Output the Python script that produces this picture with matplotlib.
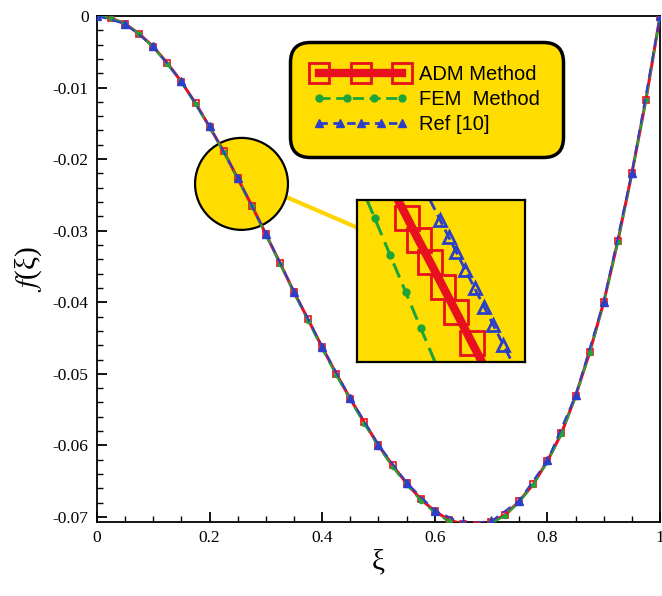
import matplotlib.pyplot as plt
from matplotlib.lines import Line2D
from matplotlib.legend_handler import HandlerLine2D
from matplotlib.patches import Ellipse, ConnectionPatch
from matplotlib.ticker import MultipleLocator, FuncFormatter

plt.rcParams['mathtext.fontset'] = 'stix'

yellow = '#ffdd00'
red = '#e8101e'
green = '#1ea53a'
blue = '#2b3fc8'

# solution f(xi)
xi = [0.000, 0.025, 0.050, 0.075, 0.100, 0.125, 0.150, 0.175, 0.200, 0.225,
      0.250, 0.275, 0.300, 0.325, 0.350, 0.375, 0.400, 0.425, 0.450, 0.475,
      0.500, 0.525, 0.550, 0.575, 0.600, 0.625, 0.650, 0.675, 0.700, 0.725,
      0.750, 0.775, 0.800, 0.825, 0.850, 0.875, 0.900, 0.925, 0.950, 0.975, 1.000]
f_adm = [0.0, -0.0003, -0.0011, -0.0025, -0.0043, -0.0066, -0.0092, -0.0122, -0.0155, -0.0189,
         -0.0227, -0.0265, -0.0305, -0.0345, -0.0386, -0.0424, -0.0463, -0.0500, -0.0535, -0.0568,
         -0.0600, -0.0628, -0.0653, -0.0675, -0.0692, -0.0704, -0.0710, -0.0711, -0.0707, -0.0697,
         -0.0678, -0.0654, -0.0622, -0.0583, -0.0531, -0.0470, -0.0400, -0.0315, -0.0220, -0.0117, 0.0]
f_fem = [0.0, -0.0003, -0.0011, -0.0025, -0.0044, -0.0067, -0.0093, -0.0123, -0.0156, -0.0190,
         -0.0228, -0.0266, -0.0306, -0.0346, -0.0387, -0.0426, -0.0465, -0.0502, -0.0537, -0.0570,
         -0.0602, -0.0630, -0.0655, -0.0677, -0.0694, -0.0706, -0.0712, -0.0713, -0.0709, -0.0698,
         -0.0679, -0.0655, -0.0623, -0.0584, -0.0532, -0.0471, -0.0401, -0.0316, -0.0221, -0.0117, 0.0]
xi_ref = [0.00, 0.05, 0.10, 0.15, 0.20, 0.25, 0.30, 0.35, 0.40, 0.45, 0.50,
          0.55, 0.60, 0.65, 0.70, 0.75, 0.80, 0.85, 0.90, 0.95, 1.00]
f_ref = [0.0, -0.0011, -0.0042, -0.0091, -0.0154, -0.0226, -0.0304, -0.0385, -0.0462, -0.0534, -0.0599,
         -0.0652, -0.0691, -0.0709, -0.0706, -0.0677, -0.0621, -0.0530, -0.0399, -0.0219, 0.0]

# magnified piece shown in the inset box
zoom_xi_adm = [0.25488, 0.25599, 0.25735, 0.25870, 0.26025, 0.26180, 0.26370, 0.26488]
zoom_f_adm = [-0.024600, -0.024778, -0.025000, -0.025212, -0.025459, -0.025706, -0.026012, -0.026200]
zoom_xi_fem = [0.25119, 0.25210, 0.25394, 0.25579, 0.25758, 0.25929]
zoom_f_fem = [-0.024600, -0.024778, -0.025143, -0.025509, -0.025864, -0.026200]
zoom_xi_ref = [0.25869, 0.25989, 0.26092, 0.26182, 0.26290, 0.26399, 0.26514, 0.26623, 0.26743, 0.26845]
zoom_f_ref = [-0.024600, -0.024798, -0.024965, -0.025114, -0.025291, -0.025469, -0.025657, -0.025835,
              -0.026032, -0.026200]

fig = plt.figure(figsize=(6.62, 5.96), dpi=100)
ax = fig.add_axes([0.1465, 0.1242, 0.8505, 0.8490])

# magnifier circle
circ = Ellipse((0.2567, -0.02346), 0.165, 0.01285, facecolor=yellow, edgecolor='black', lw=1.6, zorder=1)
ax.add_patch(circ)

ax.plot(xi, f_adm, color=red, lw=2.2, marker='s', ms=4, mfc='none', mec=red, mew=1.2, zorder=3)
ax.plot(xi, f_fem, color=green, lw=1.6, ls=(0, (5, 3)), marker='o', ms=3, zorder=4)
ax.plot(xi_ref, f_ref, color=blue, lw=1.4, ls=(0, (5, 3)), marker='^', ms=6, zorder=5)

ax.set_xlim(0, 1)
ax.set_ylim(-0.0707, 0)
ax.xaxis.set_major_locator(MultipleLocator(0.2))
ax.xaxis.set_minor_locator(MultipleLocator(0.05))
ax.yaxis.set_major_locator(MultipleLocator(0.01))
ax.yaxis.set_minor_locator(MultipleLocator(0.002))
ax.xaxis.set_major_formatter(FuncFormatter(lambda v, p: '0' if abs(v) < 1e-9 else ('1' if abs(v - 1) < 1e-9 else f'{v:.1f}')))
ax.yaxis.set_major_formatter(FuncFormatter(lambda v, p: '0' if abs(v) < 1e-9 else f'{v:.2f}'.replace('\u2212', '-')))
ax.tick_params(which='both', direction='in', top=False, right=False)
ax.tick_params(which='major', length=7, width=1.3, labelsize=12.5, pad=6)
ax.tick_params(which='minor', length=4, width=1)
for lab in ax.get_xticklabels() + ax.get_yticklabels():
    lab.set_family('Liberation Serif')
for s in ax.spines.values():
    s.set_linewidth(1.3)

ax.set_xlabel('ξ', fontsize=21, family='Liberation Serif', labelpad=2)
ax.set_ylabel(r'$f$(ξ)', fontsize=21, family='Liberation Serif', labelpad=6)

# inset box
axin = ax.inset_axes([0.4618, 0.3162, 0.2984, 0.3202])
axin.set_facecolor(yellow)
axin.plot(zoom_xi_fem, zoom_f_fem, color=green, lw=2.2, ls=(0, (5, 2.5)), marker='o', ms=5,
          markevery=[1, 2, 3, 4])
axin.plot(zoom_xi_adm, zoom_f_adm, color=red, lw=6, solid_capstyle='round', marker='s', ms=17,
          mfc='none', mec=red, mew=2, markevery=[1, 2, 3, 4, 5, 6])
axin.plot(zoom_xi_ref, zoom_f_ref, color=blue, lw=2, ls=(0, (4, 2)), marker='^', ms=8,
          mfc='none', mec=blue, mew=2, markevery=[1, 2, 3, 4, 5, 6, 7, 8])
axin.set_xlim(0.250, 0.270)
axin.set_ylim(-0.0262, -0.0246)
axin.set_xticks([])
axin.set_yticks([])
for s in axin.spines.values():
    s.set_linewidth(1.6)

con = ConnectionPatch(xyA=(0.3357, -0.02528), coordsA=ax.transData,
                      xyB=(0.0, 0.83), coordsB=axin.transAxes, color='#ffd400', lw=3)
con.set_zorder(0.5)
ax.add_artist(con)

# legend
h_adm = Line2D([], [], color=red, lw=6, marker='s', ms=14, mfc='none', mec=red, mew=2)
h_fem = Line2D([], [], color=green, lw=2, ls=(0, (4, 2)), marker='o', ms=5)
h_ref = Line2D([], [], color=blue, lw=2, ls=(0, (3, 2)), marker='^', ms=6)
leg = ax.legend([h_adm, h_fem, h_ref], ['ADM Method', 'FEM  Method', 'Ref [10]'],
                handler_map={h_adm: HandlerLine2D(numpoints=3), h_fem: HandlerLine2D(numpoints=4),
                             h_ref: HandlerLine2D(numpoints=5)},
                loc='upper left', bbox_to_anchor=(0.343, 0.949), prop={'family': 'Liberation Sans', 'size': 14.5},
                handlelength=4.7, handletextpad=0.55, labelspacing=0.3, borderpad=1.15, borderaxespad=0,
                facecolor=yellow, edgecolor='black', framealpha=1, fancybox=True)
frame = leg.get_frame()
frame.set_linewidth(2.5)
frame.set_boxstyle('round', pad=0, rounding_size=1.0)
leg.set_zorder(6)

fig.savefig('out.png', dpi=100)
